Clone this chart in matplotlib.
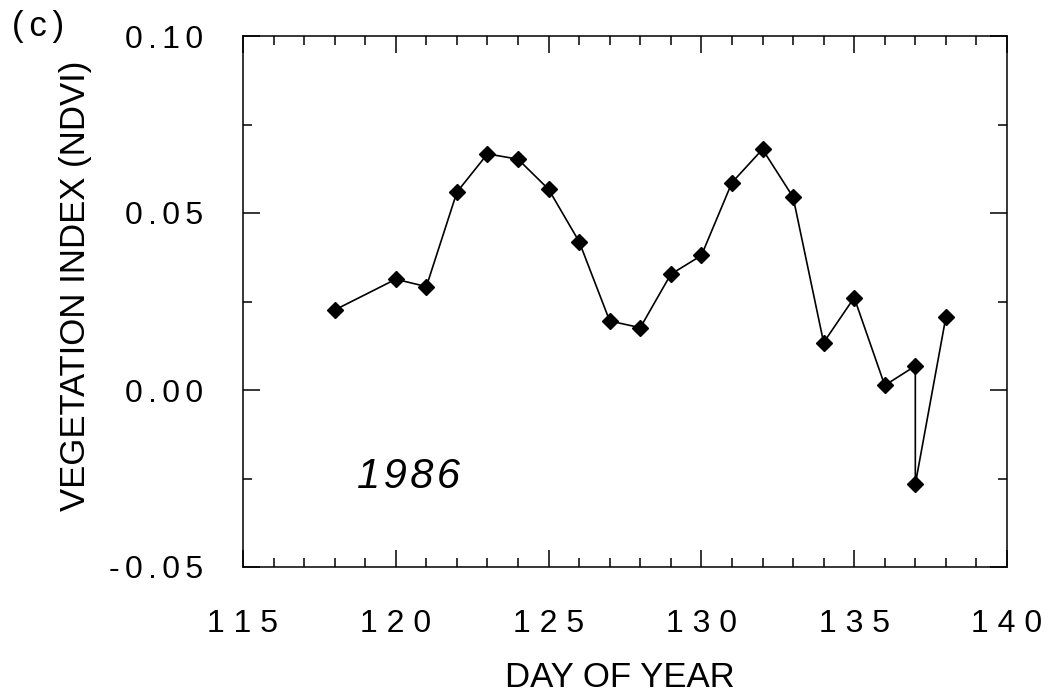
import matplotlib
matplotlib.use("Agg")
import matplotlib.pyplot as plt
from matplotlib.ticker import MultipleLocator, FuncFormatter

# ---- data ----
day = [118, 120, 121, 122, 123, 124, 125, 126, 127, 128, 129, 130,
       131, 132, 133, 134, 135, 136, 137, 137, 138]
ndvi = [0.0226, 0.0313, 0.0292, 0.0559, 0.0667, 0.0652, 0.0567, 0.0419,
        0.0195, 0.0176, 0.0327, 0.0380, 0.0586, 0.0680, 0.0545, 0.0134,
        0.0261, 0.0013, 0.0068, -0.0266, 0.0206]
x_ticks = [115, 120, 125, 130, 135, 140]
y_ticks = [-0.05, 0.00, 0.05, 0.10]
year_label = "1986"
panel_label = "(c)"
x_title = "DAY OF YEAR"
y_title = "VEGETATION INDEX (NDVI)"

plt.rcParams['font.family'] = ['Liberation Sans', 'DejaVu Sans']

fig = plt.figure(figsize=(10.45, 6.93), dpi=100)
ax = fig.add_axes([243/1045, 1-567/693, (1007-243)/1045, (567-36)/693])

ax.plot(day, ndvi, color='black', lw=1.2, marker='D', ms=8,
        mfc='black', mec='black')

ax.set_xlim(115, 140)
ax.set_ylim(-0.05, 0.10)
ax.set_xticks(x_ticks)
ax.set_yticks(y_ticks)
ax.xaxis.set_minor_locator(MultipleLocator(1))
ax.yaxis.set_minor_locator(MultipleLocator(0.025))

ax.xaxis.set_major_formatter(FuncFormatter(lambda v, p: " ".join(f"{v:.0f}")))
ax.yaxis.set_major_formatter(FuncFormatter(
    lambda v, p: "\u2006".join(f"{v:.2f}".replace("-0.00", "0.00"))))

ax.tick_params(which='both', direction='in', top=True, right=True,
               width=1.1, colors='black', labelsize=23)
ax.tick_params(which='major', length=12)
ax.tick_params(which='minor', length=6.5)
ax.tick_params(axis='x', which='major', pad=30)
ax.tick_params(axis='y', which='major', pad=29)
for s in ax.spines.values():
    s.set_linewidth(1.1)

ax.text(118.73, -0.0277, "\u200a".join(year_label), fontsize=30, style='italic',
        ha='left', va='baseline')

fig.text(12/1045, 1-36/693, "\u2006".join(panel_label), fontsize=25,
         ha='left', va='baseline')
fig.text(619.5/1045, 1-687/693, x_title, fontsize=25, ha='center', va='baseline')
fig.text(76/1045, 1-285.5/693, y_title, fontsize=25, rotation=90,
         ha='center', va='center')

fig.savefig("out.png", dpi=100)
